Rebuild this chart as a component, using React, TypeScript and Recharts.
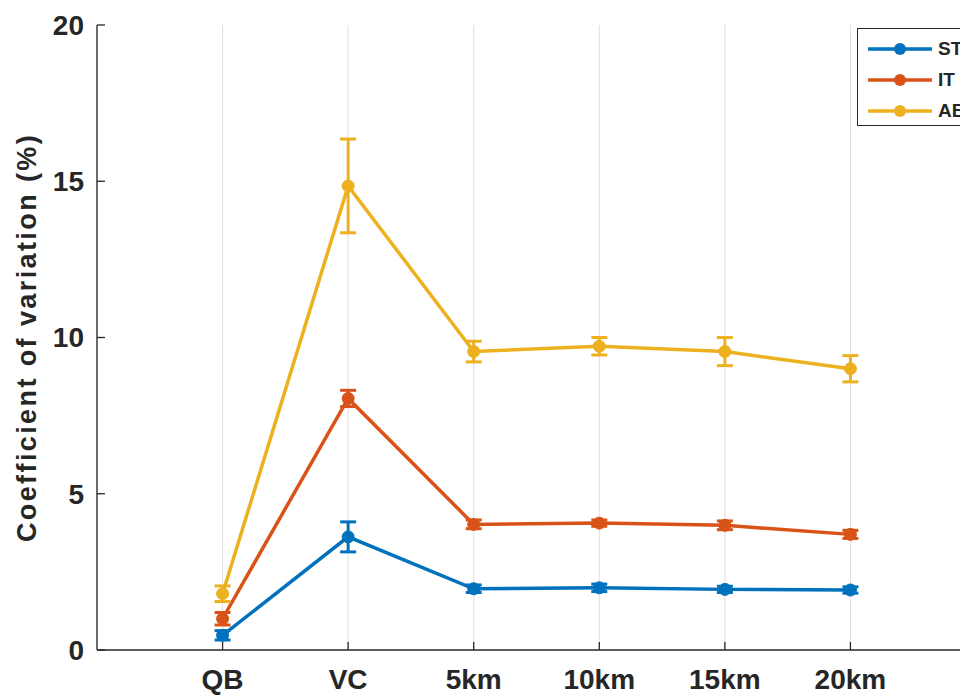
import {
  LineChart,
  Line,
  XAxis,
  YAxis,
  CartesianGrid,
  ErrorBar,
  Legend,
} from "recharts";

const categories = ["QB", "VC", "5km", "10km", "15km", "20km"];

const stMean = [0.47, 3.62, 1.96, 1.99, 1.94, 1.92];
const stErr = [0.15, 0.48, 0.12, 0.12, 0.1, 0.1];

const itMean = [1.0, 8.05, 4.02, 4.06, 3.99, 3.7];
const itErr = [0.2, 0.26, 0.14, 0.1, 0.14, 0.13];

const abMean = [1.8, 14.85, 9.55, 9.72, 9.55, 9.0];
const abErr = [0.25, 1.5, 0.33, 0.28, 0.45, 0.42];

const yTicks = [0, 5, 10, 15, 20];
const xTicks = categories.map((_, i) => i + 1);

const rows = categories.map((name, i) => ({
  x: i + 1,
  name,
  st: stMean[i],
  stErr: stErr[i],
  it: itMean[i],
  itErr: itErr[i],
  ab: abMean[i],
  abErr: abErr[i],
}));

const series = [
  { key: "st", errKey: "stErr", label: "ST", color: "#0072BD" },
  { key: "it", errKey: "itErr", label: "IT", color: "#D95319" },
  { key: "ab", errKey: "abErr", label: "AB", color: "#EDB120" },
];

const AXIS = "#262626";
const FONT = "'Liberation Sans', Arial, Helvetica, sans-serif";

function LegendBox() {
  return (
    <div
      style={{
        border: `1.5px solid ${AXIS}`,
        background: "#fff",
        width: 130,
        height: 98,
        boxSizing: "border-box",
        paddingTop: 4,
        fontFamily: FONT,
      }}
    >
      {series.map((s) => (
        <div
          key={s.key}
          style={{ display: "flex", alignItems: "center", height: 31 }}
        >
          <svg width={80} height={20} style={{ flex: "none" }}>
            <line
              x1={10}
              x2={74}
              y1={10}
              y2={10}
              stroke={s.color}
              strokeWidth={3.5}
            />
            <circle cx={42} cy={10} r={6} fill={s.color} />
          </svg>
          <span
            style={{ fontWeight: "bold", fontSize: 19, color: AXIS }}
          >
            {s.label}
          </span>
        </div>
      ))}
    </div>
  );
}

function YLabel({ viewBox }: any) {
  const cx = viewBox.x + 19;
  const cy = viewBox.y + viewBox.height / 2;
  return (
    <text
      x={cx}
      y={cy}
      transform={`rotate(-90, ${cx}, ${cy})`}
      textAnchor="middle"
      dominantBaseline="central"
      fontFamily={FONT}
      fontWeight="bold"
      fontSize={27}
      letterSpacing={2.4}
      fill={AXIS}
    >
      Coefficient of variation (%)
    </text>
  );
}

export default function App() {
  return (
    <div style={{ width: 960, height: 687, overflow: "hidden", position: "relative" }}>
      <LineChart
        width={973}
        height={687}
        data={rows}
        margin={{ top: 17, right: 5, left: 0, bottom: 5 }}
        style={{ fontFamily: FONT }}
      >
        <CartesianGrid
          horizontal={false}
          stroke="#dedede"
          strokeWidth={1}
        />
        <XAxis
          dataKey="x"
          type="number"
          domain={[0, 7]}
          ticks={xTicks}
          tickFormatter={(v: number) => categories[v - 1] ?? ""}
          height={40}
          tickSize={-8}
          tickMargin={27}
          axisLine={{ stroke: AXIS, strokeWidth: 1.3 }}
          tickLine={{ stroke: AXIS, strokeWidth: 1.3 }}
          tick={{ fill: AXIS, fontSize: 28, fontWeight: "bold" }}
          interval={0}
        />
        <XAxis
          xAxisId="top"
          orientation="top"
          dataKey="x"
          type="number"
          domain={[0, 7]}
          ticks={xTicks}
          height={0}
          tickSize={-8}
          tick={false}
          axisLine={{ stroke: AXIS, strokeWidth: 1.3 }}
          tickLine={{ stroke: AXIS, strokeWidth: 1.3 }}
        />
        <YAxis
          type="number"
          domain={[0, 20]}
          ticks={yTicks}
          width={89}
          tickSize={-8}
          tickMargin={21}
          axisLine={{ stroke: AXIS, strokeWidth: 1.3 }}
          tickLine={{ stroke: AXIS, strokeWidth: 1.3 }}
          tick={{ fill: AXIS, fontSize: 28, fontWeight: "bold" }}
          label={<YLabel />}
        />
        <Legend
          layout="vertical"
          align="center"
          verticalAlign="middle"
          content={() => <LegendBox />}
          wrapperStyle={{ left: 849, top: 20, width: 130, height: 98 }}
        />
        {series.map((s) => (
          <Line
            key={s.key}
            dataKey={s.key}
            name={s.label}
            stroke={s.color}
            strokeWidth={3.5}
            dot={{ r: 6, fill: s.color, stroke: s.color, strokeWidth: 1 }}
            activeDot={false}
            isAnimationActive={false}
          >
            <ErrorBar
              dataKey={s.errKey}
              direction="y"
              width={8}
              stroke={s.color}
              strokeWidth={3}
            />
          </Line>
        ))}
      </LineChart>
    </div>
  );
}
